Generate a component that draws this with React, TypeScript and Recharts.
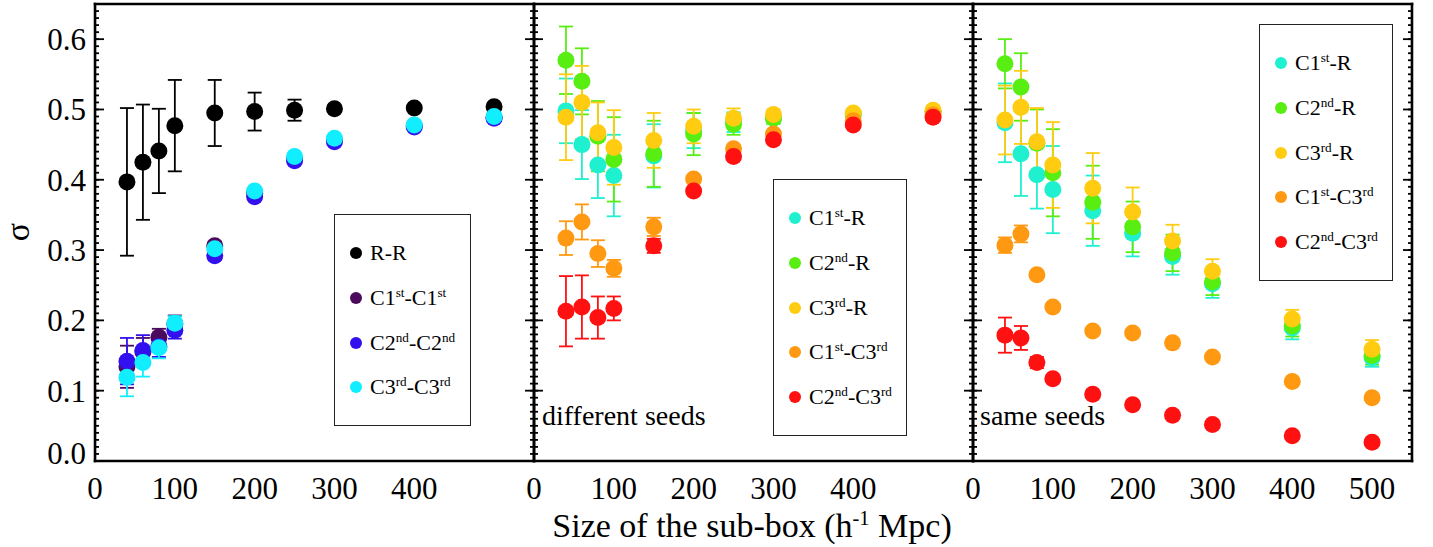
import React from 'react';
import { ScatterChart, Scatter, XAxis, YAxis, ErrorBar, Legend } from 'recharts';

// box sizes (h^-1 Mpc), same for every series
const sizes = [40, 60, 80, 100, 150, 200, 250, 300, 400, 500];

// left panel
const rrSigma = [0.397, 0.425, 0.441, 0.477, 0.495, 0.497, 0.499, 0.501, 0.502, 0.504];
const rrErr = [0.105, 0.082, 0.06, 0.065, 0.047, 0.027, 0.015, 0.004, 0.003, 0.002];
const c1c1Sigma = [0.134, 0.155, 0.176, 0.195, 0.306, 0.381, 0.43, 0.457, 0.477, 0.489];
const c1c1Err = [0.03, 0.02, 0.012, 0.012, 0.006, 0.004, 0.003, 0.002, 0.002, 0.001];
const c2c2Sigma = [0.142, 0.157, 0.163, 0.186, 0.292, 0.376, 0.427, 0.454, 0.475, 0.4875];
const c2c2Err = [0.033, 0.022, 0.015, 0.012, 0.006, 0.004, 0.003, 0.002, 0.002, 0.001];
const c3c3Sigma = [0.119, 0.14, 0.161, 0.196, 0.302, 0.384, 0.433, 0.459, 0.478, 0.49];
const c3c3Err = [0.027, 0.02, 0.015, 0.01, 0.005, 0.004, 0.003, 0.002, 0.002, 0.001];

// middle panel: different seeds
const c1rDiff = [0.498, 0.45, 0.421, 0.406, 0.434, 0.47, 0.482, 0.488, 0.493, 0.497];
const c1rDiffErr = [0.046, 0.049, 0.047, 0.058, 0.045, 0.025, 0.014, 0.008, 0.004, 0.003];
const c2rDiff = [0.57, 0.54, 0.462, 0.429, 0.437, 0.465, 0.479, 0.4875, 0.4935, 0.497];
const c2rDiffErr = [0.048, 0.047, 0.05, 0.06, 0.047, 0.03, 0.015, 0.008, 0.004, 0.003];
const c3rDiff = [0.489, 0.51, 0.467, 0.446, 0.456, 0.476, 0.4875, 0.493, 0.495, 0.499];
const c3rDiffErr = [0.061, 0.052, 0.043, 0.053, 0.039, 0.024, 0.014, 0.007, 0.004, 0.003];
const c1c3Diff = [0.317, 0.34, 0.295, 0.274, 0.333, 0.401, 0.444, 0.465, 0.484, 0.492];
const c1c3DiffErr = [0.024, 0.025, 0.019, 0.012, 0.013, 0.005, 0.004, 0.003, 0.002, 0.001];
const c2c3Diff = [0.213, 0.219, 0.204, 0.217, 0.306, 0.384, 0.433, 0.457, 0.478, 0.489];
const c2c3DiffErr = [0.05, 0.045, 0.03, 0.017, 0.01, 0.005, 0.004, 0.003, 0.002, 0.001];

// right panel: same seeds
const c1rSame = [0.481, 0.437, 0.407, 0.386, 0.356, 0.324, 0.291, 0.252, 0.189, 0.147];
const c1rSameErr = [0.056, 0.06, 0.048, 0.062, 0.05, 0.033, 0.026, 0.02, 0.016, 0.013];
const c2rSame = [0.565, 0.532, 0.452, 0.41, 0.368, 0.333, 0.296, 0.255, 0.192, 0.15];
const c2rSameErr = [0.035, 0.048, 0.048, 0.062, 0.052, 0.036, 0.026, 0.019, 0.015, 0.013];
const c3rSame = [0.485, 0.503, 0.454, 0.421, 0.388, 0.354, 0.313, 0.27, 0.202, 0.159];
const c3rSameErr = [0.049, 0.052, 0.048, 0.061, 0.05, 0.035, 0.023, 0.017, 0.013, 0.013];
const c1c3Same = [0.307, 0.323, 0.265, 0.219, 0.185, 0.182, 0.168, 0.148, 0.113, 0.09];
const c1c3SameErr = [0.011, 0.012, 0.004, 0.003, 0.002, 0.002, 0.002, 0.001, 0.001, 0.001];
const c2c3Same = [0.179, 0.175, 0.14, 0.117, 0.095, 0.08, 0.065, 0.052, 0.036, 0.0265];
const c2c3SameErr = [0.025, 0.017, 0.008, 0.004, 0.003, 0.002, 0.002, 0.001, 0.001, 0.001];

const xTicksShort = [0, 100, 200, 300, 400];
const xTicksFull = [0, 100, 200, 300, 400, 500];
const yTicks = [0, 0.1, 0.2, 0.3, 0.4, 0.5, 0.6];
const xMinor = Array.from({ length: 56 }, (_, i) => i * 10);
const yMinor = Array.from({ length: 66 }, (_, i) => i / 100);

const W = 1433;
const H = 547;
const PLOT_TOP = 4;
const PLOT_BOTTOM = 461;
const THIN = 0.01; // axes need a non-zero box to be drawn
const FONT = '"Liberation Serif", "Times New Roman", serif';

const BLACK = '#000000';
const PURPLE = '#4b0a5c';
const BLUE = '#3311ee';
const CYAN = '#11eeff';
const TURQ = '#1ef0d0';
const GREEN = '#58ee12';
const GOLD = '#ffcc11';
const ORANGE = '#ff9911';
const RED = '#ff1111';

type Series = { name: string; color: string; sigma: number[]; err: number[] };

const panels = [
  {
    left: 95, right: 534, xTicks: xTicksShort, yLabels: true,
    legend: { left: 334, top: 214, width: 137, height: 212 },
    series: [
      { name: 'R-R', color: BLACK, sigma: rrSigma, err: rrErr },
      { name: 'C1st-C1st', color: PURPLE, sigma: c1c1Sigma, err: c1c1Err },
      { name: 'C2nd-C2nd', color: BLUE, sigma: c2c2Sigma, err: c2c2Err },
      { name: 'C3rd-C3rd', color: CYAN, sigma: c3c3Sigma, err: c3c3Err },
    ] as Series[],
  },
  {
    left: 534, right: 973, xTicks: xTicksShort, yLabels: false,
    legend: { left: 773, top: 179, width: 134, height: 257 },
    series: [
      { name: 'C1st-R', color: TURQ, sigma: c1rDiff, err: c1rDiffErr },
      { name: 'C2nd-R', color: GREEN, sigma: c2rDiff, err: c2rDiffErr },
      { name: 'C3rd-R', color: GOLD, sigma: c3rDiff, err: c3rDiffErr },
      { name: 'C1st-C3rd', color: ORANGE, sigma: c1c3Diff, err: c1c3DiffErr },
      { name: 'C2nd-C3rd', color: RED, sigma: c2c3Diff, err: c2c3DiffErr },
    ] as Series[],
  },
  {
    left: 973, right: 1412, xTicks: xTicksFull, yLabels: false,
    legend: { left: 1259, top: 24, width: 134, height: 257 },
    series: [
      { name: 'C1st-R', color: TURQ, sigma: c1rSame, err: c1rSameErr },
      { name: 'C2nd-R', color: GREEN, sigma: c2rSame, err: c2rSameErr },
      { name: 'C3rd-R', color: GOLD, sigma: c3rSame, err: c3rSameErr },
      { name: 'C1st-C3rd', color: ORANGE, sigma: c1c3Same, err: c1c3SameErr },
      { name: 'C2nd-C3rd', color: RED, sigma: c2c3Same, err: c2c3SameErr },
    ] as Series[],
  },
];

const supStyle: React.CSSProperties = { fontSize: '0.6em', position: 'relative', top: '-0.6em' };

function fmtLabel(name: string) {
  return name.split(/(st|nd|rd)/).map((part, i) =>
    /^(st|nd|rd)$/.test(part)
      ? <span key={i} style={supStyle}>{part}</span>
      : <span key={i}>{part}</span>
  );
}

const YTick = (props: any) => {
  const { x, y, payload } = props;
  // bottom label sits a little above its tick, as in the original
  const shift = payload.value === 0 ? -8 : 0;
  return (
    <text x={x} y={y + shift} dy="0.355em" textAnchor="end" fontSize={31} fontFamily={FONT} fill="#000">
      {Number(payload.value).toFixed(1)}
    </text>
  );
};

// tick marks only, no text
const NoLabel = () => <g />;

const tickStroke = { stroke: '#000', strokeWidth: 1.8 };
const frameStroke = { stroke: '#000', strokeWidth: 2.6, strokeLinecap: 'square' as const };

function frameAxes() {
  const xCommon = { type: 'number' as const, domain: [0, 550], interval: 0 as const, height: THIN, tick: NoLabel, allowDataOverflow: true };
  const yCommon = { type: 'number' as const, domain: [0, 0.65], interval: 0 as const, width: THIN, tick: NoLabel, allowDataOverflow: true };
  return [
    <XAxis key="bM" xAxisId="bM" {...xCommon} ticks={xTicksFull} tickSize={-9} tickLine={tickStroke} axisLine={frameStroke} />,
    <XAxis key="bm" xAxisId="bm" {...xCommon} ticks={xMinor} tickSize={-4} tickLine={tickStroke} axisLine={false} />,
    <XAxis key="tM" xAxisId="tM" orientation="top" {...xCommon} ticks={xTicksFull} tickSize={-9} tickLine={tickStroke} axisLine={frameStroke} />,
    <XAxis key="tm" xAxisId="tm" orientation="top" {...xCommon} ticks={xMinor} tickSize={-4} tickLine={tickStroke} axisLine={false} />,
    <YAxis key="lM" yAxisId="lM" {...yCommon} ticks={yTicks} tickSize={-9} tickLine={tickStroke} axisLine={frameStroke} />,
    <YAxis key="lm" yAxisId="lm" {...yCommon} ticks={yMinor} tickSize={-4} tickLine={tickStroke} axisLine={false} />,
    <YAxis key="rM" yAxisId="rM" orientation="right" {...yCommon} ticks={yTicks} tickSize={-9} tickLine={tickStroke} axisLine={frameStroke} />,
    <YAxis key="rm" yAxisId="rm" orientation="right" {...yCommon} ticks={yMinor} tickSize={-4} tickLine={tickStroke} axisLine={false} />,
  ];
}

function LegendBox({ series, box }: { series: Series[]; box: { width: number; height: number } }) {
  return (
    <div style={{ width: box.width, height: box.height, border: '1.5px solid #222', boxSizing: 'border-box', position: 'relative', fontFamily: FONT, fontSize: 22, color: '#000' }}>
      {series.map((s, i) => (
        <div key={s.name} style={{ position: 'absolute', left: 15, top: 38 + i * 44.8 - 14, height: 28, display: 'flex', alignItems: 'center', whiteSpace: 'nowrap' }}>
          <span style={{ width: 12, height: 12, borderRadius: 6, background: s.color, display: 'inline-block', marginRight: 8 }} />
          <span>{fmtLabel(s.name)}</span>
        </div>
      ))}
    </div>
  );
}

function Panel({ p }: { p: (typeof panels)[number] }) {
  return (
    <div style={{ position: 'absolute', left: 0, top: 0 }}>
      <ScatterChart
        width={W}
        height={H}
        margin={{ top: PLOT_TOP, bottom: H - PLOT_BOTTOM, left: p.left, right: W - p.right }}
      >
        {frameAxes()}
        <XAxis
          xAxisId="x"
          type="number"
          dataKey="x"
          domain={[0, 550]}
          ticks={p.xTicks}
          interval={0}
          height={THIN}
          tickSize={0}
          tickMargin={16}
          axisLine={false}
          tickLine={false}
          tick={{ fontSize: 31, fill: '#000', fontFamily: FONT }}
        />
        <YAxis
          yAxisId="y"
          type="number"
          dataKey="y"
          domain={[0, 0.65]}
          ticks={yTicks}
          interval={0}
          width={THIN}
          tickSize={0}
          tickMargin={9}
          axisLine={false}
          tickLine={false}
          tick={p.yLabels ? <YTick /> : false}
        />
        {p.series.map((s) => (
          <Scatter
            key={s.name}
            name={s.name}
            xAxisId="x"
            yAxisId="y"
            data={sizes.map((x, i) => ({ x, y: s.sigma[i], err: s.err[i] }))}
            fill={s.color}
            isAnimationActive={false}
            shape={(props: any) => <circle cx={props.cx} cy={props.cy} r={8.5} fill={s.color} />}
          >
            <ErrorBar dataKey="err" direction="y" width={7} stroke={s.color} strokeWidth={1.8} />
          </Scatter>
        ))}
        <Legend
          layout="horizontal"
          verticalAlign="middle"
          align="center"
          wrapperStyle={{ left: p.legend.left, top: p.legend.top, width: p.legend.width, height: p.legend.height }}
          content={() => <LegendBox series={p.series} box={p.legend} />}
        />
      </ScatterChart>
    </div>
  );
}

const noteStyle: React.CSSProperties = { position: 'absolute', fontFamily: FONT, fontSize: 28, lineHeight: 1, whiteSpace: 'nowrap', color: '#000' };

export default function App() {
  return (
    <div style={{ position: 'absolute', left: 0, top: 0, width: W, height: H, background: '#fff', overflow: 'hidden' }}>
      {panels.map((p, i) => <Panel key={i} p={p} />)}
      <div style={{ ...noteStyle, left: 542, top: 402 }}>different seeds</div>
      <div style={{ ...noteStyle, left: 980, top: 402 }}>same seeds</div>
      <div style={{ ...noteStyle, fontSize: 34, left: 752, top: 509, transform: 'translateX(-50%)' }}>
        Size of the sub-box (h<span style={supStyle}>-1</span> Mpc)
      </div>
      <div style={{ ...noteStyle, fontSize: 34, lineHeight: 1.3, left: 18, top: 232, padding: 3, transform: 'translate(-50%, -50%) rotate(-90deg)' }}>σ</div>
    </div>
  );
}
